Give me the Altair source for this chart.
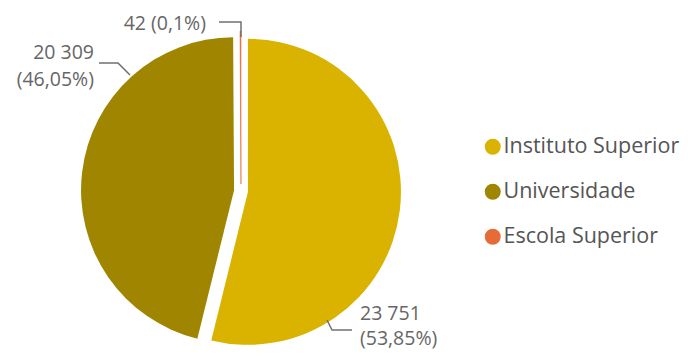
import altair as alt
import pandas as pd

# ---- data ----
categories = ["Instituto Superior", "Universidade", "Escola Superior"]
values = [23751, 20309, 42]
colors = ["#D9B300", "#A08500", "#E66C37"]

total = sum(values)


def fmt_num(v):
    return f"{v:,}".replace(",", " ")


def fmt_pct(v):
    s = f"{v / total * 100:.2f}".rstrip("0").rstrip(".")
    return s.replace(".", ",") + "%"


df = pd.DataFrame({"cat": categories, "value": values, "order": list(range(len(categories)))})

# ---- layout ----
W, H = 672, 342
CX, CY = 233, 183      # pie centre (plot coordinates)
R = 153                # pie radius
D = 7                  # explode distance
FONT = "Open Sans"
TXT = "#666666"

label_sep = ["\n", "\n", " "]
label_align = ["left", "right", "right"]
label_pos = [(352, 306), (86, 44.5), (198, 16)]
leader_pts = [
    [(319, 312), (324, 322), (344, 322)],
    [(91, 55), (110, 55), (122, 67)],
    [(211, 14), (233, 14), (233, 29)],
]

labels = pd.DataFrame({
    "text": [f"{fmt_num(v)}{s}({fmt_pct(v)})" for v, s in zip(values, label_sep)],
    "x": [p[0] for p in label_pos],
    "y": [p[1] for p in label_pos],
    "align": label_align,
})

line_rows = []
for cat, pts in zip(categories, leader_pts):
    for i, (x, y) in enumerate(pts):
        line_rows.append({"cat": cat, "i": i, "x": x, "y": y})
lines = pd.DataFrame(line_rows)

color_scale = alt.Scale(domain=categories, range=colors)

pie = alt.Chart(df).transform_joinaggregate(
    total="sum(value)"
).transform_window(
    cum="sum(value)", sort=[alt.SortField("order")], frame=[None, 0]
).transform_calculate(
    t0="(datum.cum - datum.value) / datum.total * 2 * PI",
    t1="datum.cum / datum.total * 2 * PI",
).transform_calculate(
    mid="(datum.t0 + datum.t1) / 2",
).transform_calculate(
    px=f"{CX} + {D} * sin(datum.mid)",
    py=f"{CY} - {D} * cos(datum.mid)",
).mark_arc(outerRadius=R, stroke="#E66C37").encode(
    theta=alt.Theta("t0:Q", scale=None),
    theta2="t1:Q",
    x=alt.X("px:Q", scale=None, axis=None),
    y=alt.Y("py:Q", scale=None, axis=None),
    strokeWidth=alt.condition(alt.datum.cat == "Escola Superior", alt.value(0.6), alt.value(0)),
    color=alt.Color(
        "cat:N",
        scale=color_scale,
        sort=categories,
        legend=alt.Legend(
            orient="none",
            legendX=474,
            legendY=128,
            title=None,
            symbolType="circle",
            symbolSize=254,
            symbolStrokeWidth=0,
            labelFont=FONT,
            labelFontSize=21.5,
            labelColor="#555555",
            labelOffset=0,
            rowPadding=22,
            padding=0,
            labelLimit=400,
        ),
    ),
)

leaders = alt.Chart(lines).mark_line(color="#707070", strokeWidth=1.5).encode(
    x=alt.X("x:Q", scale=None, axis=None),
    y=alt.Y("y:Q", scale=None, axis=None),
    detail="cat:N",
    order="i:Q",
)


def text_layer(align, lh):
    return alt.Chart(labels).transform_filter(alt.datum.align == align).mark_text(
        align=align, baseline="middle", font=FONT, fontSize=19.5, color=TXT,
        lineBreak="\n", lineHeight=lh,
    ).encode(
        x=alt.X("x:Q", scale=None, axis=None),
        y=alt.Y("y:Q", scale=None, axis=None),
        text="text:N",
    )


chart = alt.layer(pie, leaders, text_layer("left", 25), text_layer("right", 27)).properties(
    width=W, height=H, autosize="none", padding=0
).configure_view(stroke=None)

chart.save("out.html", embed_options={"renderer": "svg", "actions": False})
